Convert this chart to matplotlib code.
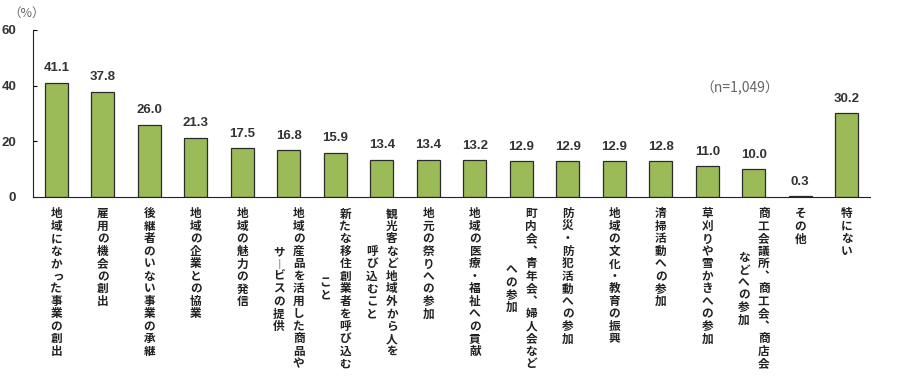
import matplotlib
matplotlib.use("Agg")
import matplotlib.pyplot as plt

# survey items (vertical labels, each inner list = columns right to left)
labels = [
    ["地域になかった事業の創出"],
    ["雇用の機会の創出"],
    ["後継者のいない事業の承継"],
    ["地域の企業との協業"],
    ["地域の魅力の発信"],
    ["地域の産品を活用した商品や", "サービスの提供"],
    ["新たな移住創業者を呼び込む", "こと"],
    ["観光客など地域外から人を", "呼び込むこと"],
    ["地元の祭りへの参加"],
    ["地域の医療・福祉への貢献"],
    ["町内会、青年会、婦人会など", "への参加"],
    ["防災・防犯活動への参加"],
    ["地域の文化・教育の振興"],
    ["清掃活動への参加"],
    ["草刈りや雪かきへの参加"],
    ["商工会議所、商工会、商店会", "などへの参加"],
    ["その他"],
    ["特にない"],
]
values = [41.1, 37.8, 26.0, 21.3, 17.5, 16.8, 15.9, 13.4, 13.4, 13.2,
          12.9, 12.9, 12.9, 12.8, 11.0, 10.0, 0.3, 30.2]
yticks = [0, 20, 40, 60]

jp = ["Noto Sans CJK JP", "DejaVu Sans"]
num = ["Liberation Sans", "DejaVu Sans"]

fig = plt.figure(figsize=(9, 3.84), dpi=100)
ax = fig.add_axes([0.0367, 0.487, 0.93, 0.435])

x = list(range(len(values)))
ax.bar(x, values, width=0.5, color="#9BBB59", edgecolor="#2b2b2b", linewidth=0.9, zorder=2)

for i, v in enumerate(values):
    ax.annotate(f"{v:.1f}", xy=(i, v), xytext=(0, 6), textcoords="offset points",
                ha="center", va="bottom", fontsize=9.5, fontweight="bold",
                family=num, color="#333333")

ax.set_xlim(-0.5, len(values) - 0.5)
ax.set_ylim(0, 60)
ax.set_yticks(yticks)
ax.set_yticklabels([str(t) for t in yticks], fontsize=9.5, fontweight="bold",
                   family=num, color="#333333")
ax.tick_params(axis="y", direction="in", length=3, pad=12, width=0.8)
ax.set_xticks([])
for s in ["top", "right"]:
    ax.spines[s].set_visible(False)
ax.spines["left"].set_color("#222222")
ax.spines["bottom"].set_color("#222222")

# vertical writing: one glyph per text, columns right to left
vert = {"、": "︑", "ー": "︱"}
small = "っゃゅょ"
step = 9.0
top = 12.2
colgap = 14.4
for i, cols in enumerate(labels):
    n1 = len(cols[0])
    ncol = len(cols)
    for j, col in enumerate(cols):
        dx = (ncol - 1) / 2 * colgap - j * colgap
        start = 0 if j == 0 else (n1 - len(col)) / 2
        for k, ch in enumerate(col):
            ox, oy = dx, -(top + (start + k) * step)
            if ch in small:
                ox += 1.2
            ax.annotate(vert.get(ch, ch), xy=(i, 0), xytext=(ox, oy),
                        textcoords="offset points", ha="center", va="center",
                        fontsize=8.4, fontweight="bold", family=jp,
                        color="#222222", annotation_clip=False)

fig.text(27 / 900, 1 - 13 / 384, "（%）", ha="center", va="center",
         fontsize=9, family=jp, color="#666666")
fig.text(740 / 900, 1 - 88 / 384, "（n=1,049）", ha="center", va="center",
         fontsize=10, family=jp, color="#666666")

fig.savefig("out.png", dpi=100)
